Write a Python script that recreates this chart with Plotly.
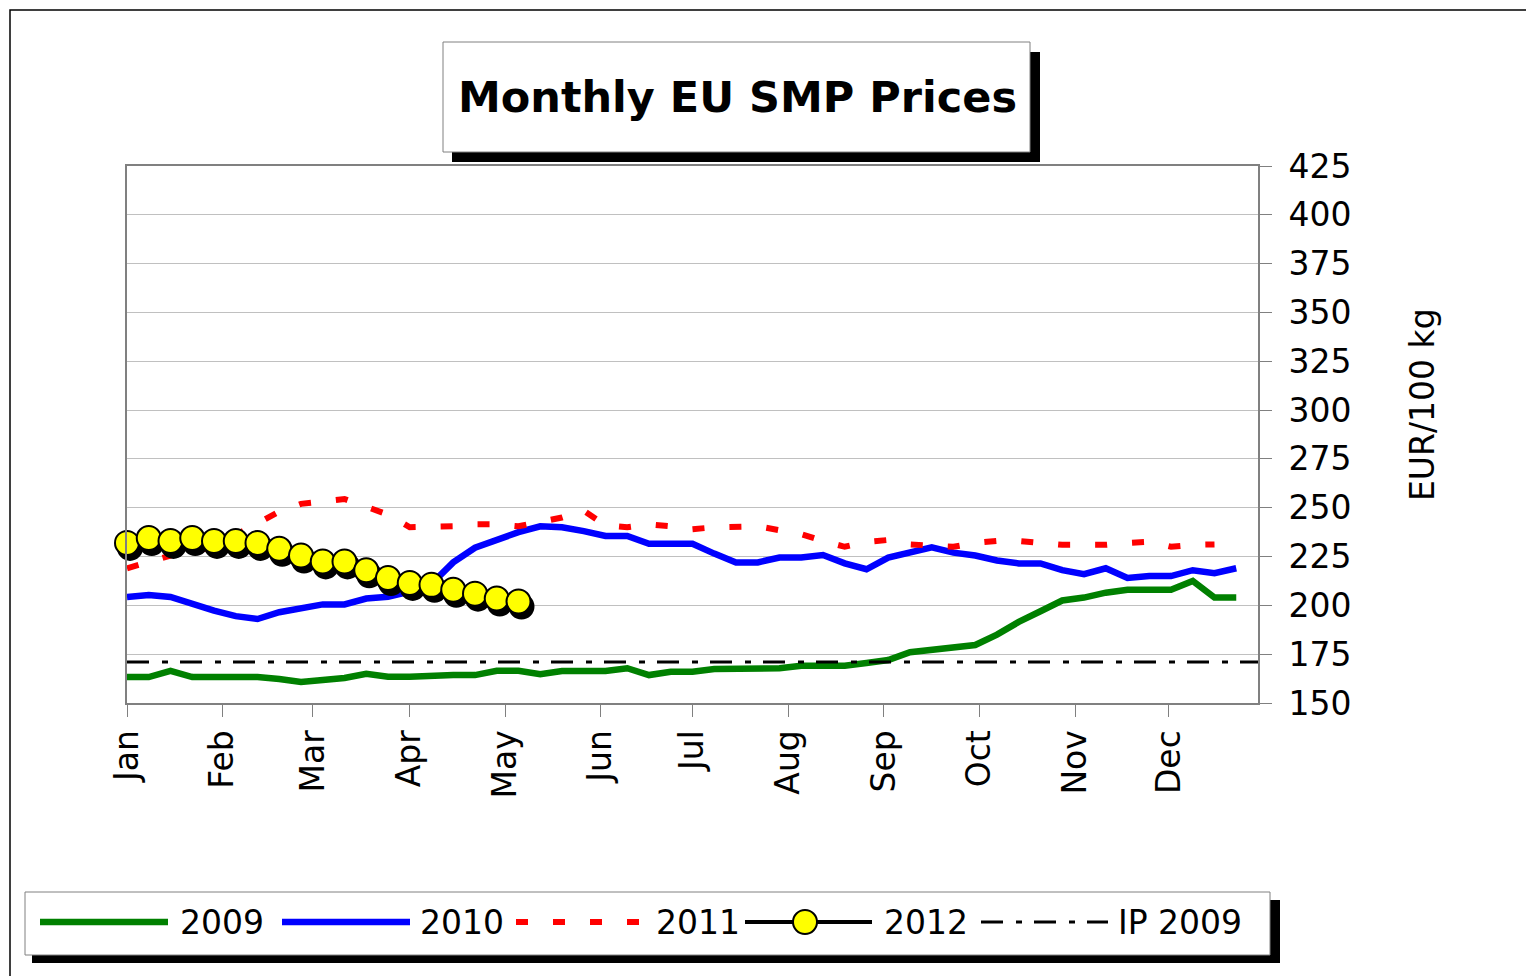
import plotly.graph_objects as go

# ---------------- data ----------------
months = ["Jan", "Feb", "Mar", "Apr", "May", "Jun", "Jul", "Aug", "Sep", "Oct", "Nov", "Dec"]
month_pos = [0, 4.37, 8.55, 13.0, 17.4, 21.75, 26.0, 30.4, 34.8, 39.2, 43.6, 47.9]

weeks = list(range(52))

p2009 = [163.3, 163.3, 166.4, 163.3, 163.3, 163.3, 163.3, 162.3, 160.8, 161.8,
         162.8, 165.0, 163.5, 163.5, 164.3, 164.3, 164.3, 166.5, 166.5, 164.8,
         166.4, 166.5, 166.4, 167.8, 164.3, 166.0, 166.0, 167.4, 167.5, 167.5,
         167.8, 169.1, 169.1, 169.1, 170.5, 172.0, 176.0, 177.5, 178.8, 179.7,
         185.0, 191.5, 197.0, 202.5, 204.0, 206.5, 208.0, 208.0, 208.0, 212.5,
         204.0, 204.0]

p2010 = [204.3, 205.3, 204.3, 200.5, 197.3, 194.5, 193.0, 196.5, 198.5, 200.5,
         200.5, 203.5, 204.4, 207.0, 211.0, 222.0, 229.5, 233.5, 237.5, 240.5,
         240.0, 238.0, 235.5, 235.5, 231.5, 231.5, 231.5, 226.5, 222.0, 222.0,
         224.5, 224.5, 225.8, 221.5, 218.5, 224.5, 227.5, 229.7, 227.0, 225.5,
         223.0, 221.5, 221.5, 218.0, 216.0, 219.0, 214.0, 215.0, 215.0, 218.0,
         216.5, 219.0]

p2011 = [219.0, 222.0, 225.5, 227.5, 230.0, 236.0, 242.0, 248.0, 252.0, 253.5,
         254.5, 250.5, 246.5, 240.0, 240.0, 240.5, 241.5, 241.5, 240.5, 242.5,
         245.0, 248.5, 241.0, 240.0, 241.5, 240.5, 239.0, 240.0, 240.5, 240.5,
         238.5, 236.5, 233.0, 230.0, 232.5, 233.5, 231.2, 230.5, 230.0, 232.0,
         233.0, 233.0, 232.0, 231.0, 231.0, 231.0, 232.0, 232.6, 230.0, 231.0,
         231.2]

p2012 = [232.0, 234.5, 233.0, 234.5, 233.0, 233.0, 232.0, 229.0, 225.5, 222.5,
         222.5, 218.0, 214.0, 211.5, 210.5, 208.0, 206.0, 203.5, 202.0]

ip2009 = 171.0

y_ticks = list(range(150, 426, 25))

# ---------------- layout constants ----------------
FIG_W, FIG_H = 1526, 976
L, R, T, B = 127, 1258, 166, 703
W, H = R - L, B - T
X_RANGE = [0, 52]
Y_RANGE = [150, 425]
FONT = "Comic Sans MS, DejaVu Sans, sans-serif"


def pxx(x):
    return (x - L) / W


def pyy(y):
    return (B - y) / H


# shadow offset of 2012 markers in data units (px)
dx = 3 / (W / (X_RANGE[1] - X_RANGE[0]))
dy = 5 / (H / (Y_RANGE[1] - Y_RANGE[0]))

fig = go.Figure()

fig.add_trace(go.Scatter(x=weeks[:len(p2009)], y=p2009, mode="lines",
                         line=dict(color="#008000", width=6.5), name="2009"))
fig.add_trace(go.Scatter(x=weeks[:len(p2010)], y=p2010, mode="lines",
                         line=dict(color="#0000ff", width=6.5), name="2010"))
fig.add_trace(go.Scatter(x=weeks[:len(p2011)], y=p2011, mode="lines",
                         line=dict(color="#ff0000", width=6, dash="12px,25px"), name="2011"))
fig.add_trace(go.Scatter(x=[X_RANGE[0], X_RANGE[1]], y=[ip2009, ip2009], mode="lines",
                         line=dict(color="black", width=3, dash="22px,13px,6px,12px"), name="IP 2009"))
# shadow of 2012
fig.add_trace(go.Scatter(x=[w + dx for w in weeks[:len(p2012)]], y=[v - dy for v in p2012],
                         mode="lines+markers", line=dict(color="black", width=4), cliponaxis=False,
                         marker=dict(size=24, color="black", line=dict(color="black", width=2)),
                         hoverinfo="skip", name="shadow"))
fig.add_trace(go.Scatter(x=weeks[:len(p2012)], y=p2012, mode="lines+markers",
                         line=dict(color="black", width=4), cliponaxis=False,
                         marker=dict(size=24, color="#ffff00", line=dict(color="black", width=2)),
                         name="2012"))

shapes = []
# outer chart border
shapes.append(dict(type="rect", xref="paper", yref="paper",
                   x0=pxx(10), y0=pyy(1100), x1=pxx(1700), y1=pyy(10),
                   line=dict(color="black", width=1.5), fillcolor="rgba(0,0,0,0)", layer="below"))
# title box with shadow
shapes.append(dict(type="rect", xref="paper", yref="paper",
                   x0=pxx(452), y0=pyy(162), x1=pxx(1040), y1=pyy(52),
                   line=dict(width=0), fillcolor="black"))
shapes.append(dict(type="rect", xref="paper", yref="paper",
                   x0=pxx(443), y0=pyy(152), x1=pxx(1030), y1=pyy(42),
                   line=dict(color="#808080", width=1), fillcolor="white"))
# legend box with shadow
shapes.append(dict(type="rect", xref="paper", yref="paper",
                   x0=pxx(32), y0=pyy(963), x1=pxx(1280), y1=pyy(900),
                   line=dict(width=0), fillcolor="black"))
shapes.append(dict(type="rect", xref="paper", yref="paper",
                   x0=pxx(25), y0=pyy(955), x1=pxx(1270), y1=pyy(892),
                   line=dict(color="#808080", width=1), fillcolor="white"))

LEG_Y = 922
legend_items = [
    ("2009", 40, 168, dict(color="#008000", width=6.5), 178),
    ("2010", 282, 410, dict(color="#0000ff", width=6.5), 418),
    ("2011", 516, 640, dict(color="#ff0000", width=6, dash="12px,25px"), 654),
    ("2012", 745, 872, dict(color="black", width=4), 882),
    ("IP 2009", 981, 1108, dict(color="black", width=3, dash="22px,13px,6px,12px"), 1116),
]
annotations = []
for label, xa, xb, ln, xt in legend_items:
    shapes.append(dict(type="line", xref="paper", yref="paper",
                       x0=pxx(xa), y0=pyy(LEG_Y), x1=pxx(xb), y1=pyy(LEG_Y), line=ln))
    annotations.append(dict(text=label, xref="paper", yref="paper", x=pxx(xt), y=pyy(LEG_Y),
                            xanchor="left", yanchor="middle", showarrow=False,
                            font=dict(family=FONT, size=33, color="black")))
# yellow marker in legend
shapes.append(dict(type="circle", xref="paper", yref="paper",
                   x0=pxx(793), y0=pyy(934), x1=pxx(817), y1=pyy(910),
                   fillcolor="#ffff00", line=dict(color="black", width=2)))

annotations.append(dict(text="<b>Monthly EU SMP Prices</b>", xref="paper", yref="paper",
                        x=pxx(737), y=pyy(97), xanchor="center", yanchor="middle", showarrow=False,
                        font=dict(family=FONT, size=43, color="black")))
annotations.append(dict(text="EUR/100 kg", xref="paper", yref="paper",
                        x=pxx(1422), y=pyy(405), xanchor="center", yanchor="middle", showarrow=False,
                        textangle=-90, font=dict(family=FONT, size=33, color="black")))

fig.update_layout(
    width=FIG_W, height=FIG_H,
    margin=dict(l=L, r=FIG_W - R, t=T, b=FIG_H - B, pad=0),
    paper_bgcolor="white", plot_bgcolor="white",
    showlegend=False,
    shapes=shapes, annotations=annotations,
    font=dict(family=FONT, size=33, color="black"),
    xaxis=dict(range=X_RANGE, tickvals=month_pos, ticktext=months, tickangle=-90,
               ticks="outside", ticklen=12, tickcolor="#808080", tickwidth=1,
               showgrid=False, zeroline=False, showline=True, linecolor="#808080",
               linewidth=2, mirror=True, tickfont=dict(family=FONT, size=33)),
    yaxis=dict(range=Y_RANGE, tickvals=y_ticks, side="right",
               ticks="outside", ticklen=12, tickcolor="#808080", tickwidth=1,
               ticklabelstandoff=10,
               showgrid=True, gridcolor="#c0c0c0", gridwidth=1, zeroline=False,
               showline=True, linecolor="#808080", linewidth=2, mirror=True,
               tickfont=dict(family=FONT, size=33)),
)

fig.write_html("out.html", config={"displayModeBar": False},
               post_script="document.body.style.margin='0';document.body.style.overflow='hidden';")
